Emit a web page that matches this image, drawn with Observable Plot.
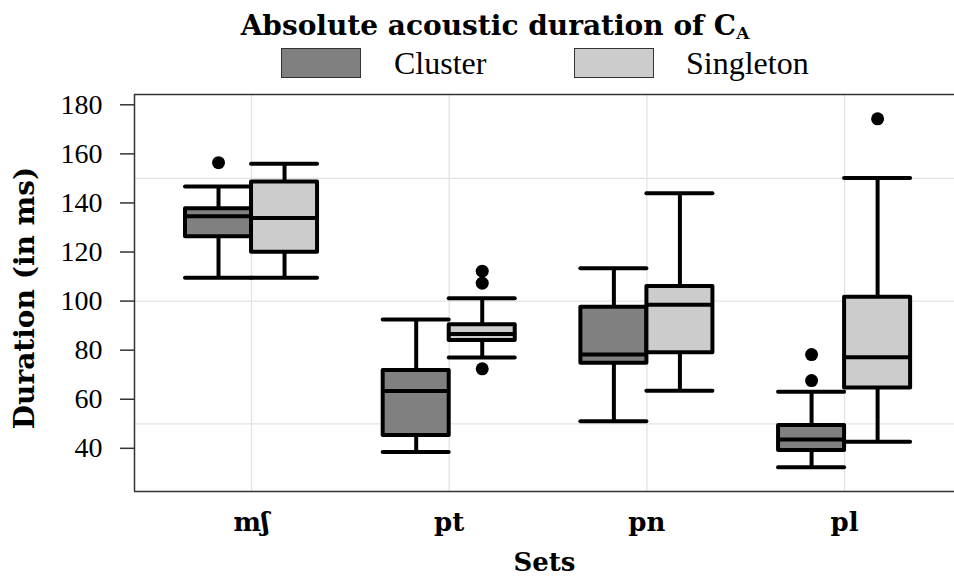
<!DOCTYPE html>
<html><head><meta charset="utf-8">
<script src="https://cdn.jsdelivr.net/npm/d3@7"></script>
<script src="https://cdn.jsdelivr.net/npm/@observablehq/plot@0.6"></script>
<style>
body{margin:0;background:#fff;}
#wrap{position:relative;width:954px;height:579px;overflow:hidden;background:#fff;}
#head{position:relative;height:90px;}
#title{position:absolute;left:0;width:990px;top:11px;text-align:center;font-family:"DejaVu Serif";font-weight:bold;font-size:28px;line-height:30px;color:#000;}
#title sub{font-size:17px;vertical-align:-4px;line-height:0;}
.sw{position:absolute;top:48px;width:80px;height:30px;box-sizing:border-box;border:1px solid #333;}
.lb{position:absolute;top:49px;line-height:28px;font-family:"Liberation Serif";font-size:32px;color:#000;}
#chart svg{display:block;}
</style></head><body>
<div id="wrap">
  <div id="head">
    <div id="title">Absolute acoustic duration of C<sub>A</sub></div>
    <div class="sw" id="sw0" style="left:281px"></div><div class="lb" id="lb0" style="left:394px"></div>
    <div class="sw" id="sw1" style="left:574px"></div><div class="lb" id="lb1" style="left:686px"></div>
  </div>
  <div id="chart"></div>
</div>
<script>
// ---- data ----
const categories = ["mʃ", "pt", "pn", "pl"];
const groups = ["Cluster", "Singleton"];
const groupColors = ["#808080", "#cccccc"];

const clusterLow  = [109.5, 38.5, 51.0, 32.3];
const clusterQ1   = [126.2, 45.2, 74.7, 39.1];
const clusterMed  = [134.6, 63.4, 78.2, 43.6];
const clusterQ3   = [137.6, 71.7, 97.5, 49.3];
const clusterHigh = [146.7, 92.5, 113.4, 63.1];
const clusterOutliers = [[156.4], [], [], [78.2, 67.6]];

const singletonLow  = [109.5, 77.0, 63.5, 42.7];
const singletonQ1   = [119.9, 83.9, 78.9, 64.6];
const singletonMed  = [133.9, 86.6, 98.5, 77.1];
const singletonQ3   = [148.5, 90.4, 106.0, 101.6];
const singletonHigh = [156.0, 101.2, 144.0, 150.2];
const singletonOutliers = [[], [112.2, 107.3, 72.4], [], [174.3]];

const yTicks = [40, 60, 80, 100, 120, 140, 160, 180];
const yGrid = [50, 100, 150];
const xLabel = "Sets";
const yLabel = "Duration (in ms)";

// ---- legend ----
groups.forEach((g, k) => {
  document.getElementById("sw" + k).style.background = groupColors[k];
  document.getElementById("lb" + k).textContent = g;
});

// ---- build tables ----
const boxW = 0.334;
const series = [
  {g: groups[0], low: clusterLow, q1: clusterQ1, med: clusterMed, q3: clusterQ3, high: clusterHigh, out: clusterOutliers, off: -1},
  {g: groups[1], low: singletonLow, q1: singletonQ1, med: singletonMed, q3: singletonQ3, high: singletonHigh, out: singletonOutliers, off: 0}
];
const boxes = [];
const outliers = [];
series.forEach(s => {
  categories.forEach((c, i) => {
    const x1 = i + s.off * boxW, x2 = x1 + boxW, xm = (x1 + x2) / 2;
    boxes.push({cat: c, g: s.g, x1, x2, xm, low: s.low[i], q1: s.q1[i], med: s.med[i], q3: s.q3[i], high: s.high[i]});
    s.out[i].forEach(v => outliers.push({cat: c, g: s.g, xm, v}));
  });
});

const lineW = 4;
const chart = Plot.plot({
  width: 954,
  height: 489,
  marginLeft: 134,
  marginRight: 0,
  marginTop: 4,
  marginBottom: 88,
  x: {type: "linear", domain: [-0.592, 3.556], axis: null},
  y: {type: "linear", domain: [22.4, 184.2], axis: null},
  color: {domain: groups, range: groupColors},
  style: {fontFamily: "Liberation Serif", fontSize: "28px", color: "#000", background: "#fff", overflow: "visible"},
  marks: [
    Plot.ruleY(yGrid, {stroke: "#e3e3e3", strokeWidth: 1.3}),
    Plot.ruleX(categories.map((c, i) => i), {stroke: "#e3e3e3", strokeWidth: 1.3}),
    // whisker stems and caps
    Plot.ruleX(boxes, {x: "xm", y1: "low", y2: "high", stroke: "#000", strokeWidth: lineW}),
    Plot.ruleY(boxes, {y: "high", x1: "x1", x2: "x2", stroke: "#000", strokeWidth: lineW, strokeLinecap: "round"}),
    Plot.ruleY(boxes, {y: "low", x1: "x1", x2: "x2", stroke: "#000", strokeWidth: lineW, strokeLinecap: "round"}),
    // boxes
    Plot.rect(boxes, {x1: "x1", x2: "x2", y1: "q1", y2: "q3", fill: "g", stroke: "#000", strokeWidth: lineW, strokeLinejoin: "round"}),
    Plot.ruleY(boxes, {y: "med", x1: "x1", x2: "x2", stroke: "#000", strokeWidth: lineW}),
    // outliers
    Plot.dot(outliers, {x: "xm", y: "v", r: 6.5, fill: "#000", stroke: null}),
    // frame lines
    Plot.ruleX([-0.592], {stroke: "#333", strokeWidth: 1.5}),
    Plot.ruleY([184.2], {stroke: "#333", strokeWidth: 1.5}),
    Plot.ruleY([22.4], {stroke: "#333", strokeWidth: 1.5}),
    // y axis
    Plot.axisY(yTicks, {tickSize: 14, tickPadding: 18, stroke: "#333", strokeWidth: 1.5, fontSize: 28, fill: "#000", label: null}),
    // x tick labels
    Plot.text(categories, {x: (d, i) => i, frameAnchor: "bottom", lineAnchor: "middle", dy: 31, fontFamily: "DejaVu Serif", fontWeight: "bold", fontSize: 26, fill: "#000"}),
    // axis titles
    Plot.text([xLabel], {frameAnchor: "bottom", textAnchor: "middle", lineAnchor: "middle", dy: 71, fontFamily: "DejaVu Serif", fontWeight: "bold", fontSize: 26, fill: "#000"}),
    Plot.text([yLabel], {frameAnchor: "left", textAnchor: "middle", rotate: -90, dx: -109, dy: 5, lineAnchor: "middle", fontFamily: "DejaVu Serif", fontWeight: "bold", fontSize: 28, fill: "#000"})
  ]
});
document.getElementById("chart").appendChild(chart);
</script>
</body></html>
